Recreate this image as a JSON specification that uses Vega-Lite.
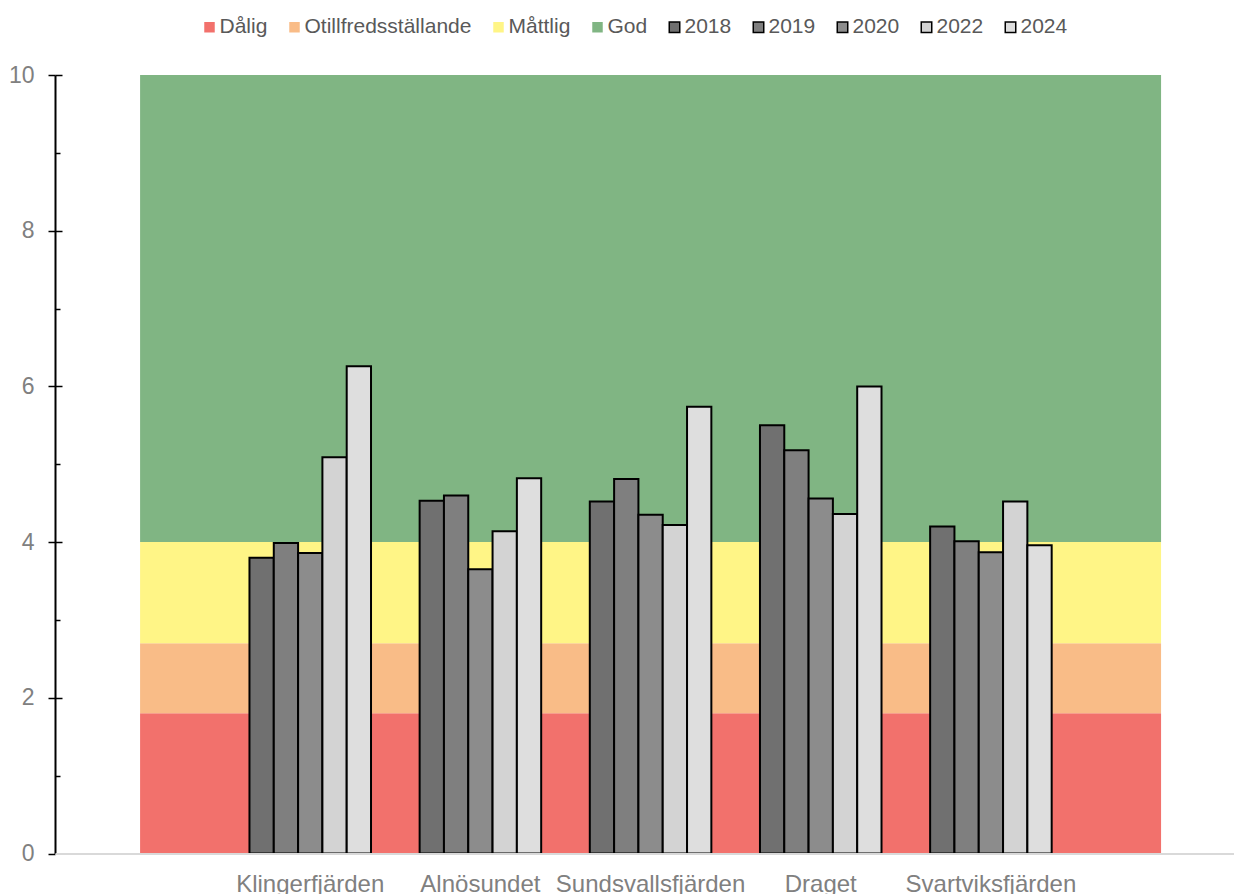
{
  "$schema": "https://vega.github.io/schema/vega-lite/v6.json",
  "width": 1179,
  "height": 778.5,
  "autosize": {"type": "none"},
  "padding": {"left": 55, "top": 75, "right": 0, "bottom": 40.5},
  "background": "white",
  "config": {
    "view": {"stroke": null},
    "font": "Liberation Sans",
    "axis": {"grid": false, "labelFont": "Liberation Sans"},
    "legend": {"labelFont": "Liberation Sans"}
  },
  "datasets": {
    "bands": [
      {"klass": "Dålig", "from": 0, "to": 1.8},
      {"klass": "Otillfredsställande", "from": 1.8, "to": 2.7},
      {"klass": "Måttlig", "from": 2.7, "to": 4},
      {"klass": "God", "from": 4, "to": 10}
    ],
    "scores": [
      {"site": "Klingerfjärden", "year": "2018", "value": 3.80},
      {"site": "Klingerfjärden", "year": "2019", "value": 3.99},
      {"site": "Klingerfjärden", "year": "2020", "value": 3.86},
      {"site": "Klingerfjärden", "year": "2022", "value": 5.09},
      {"site": "Klingerfjärden", "year": "2024", "value": 6.26},
      {"site": "Alnösundet", "year": "2018", "value": 4.53},
      {"site": "Alnösundet", "year": "2019", "value": 4.60},
      {"site": "Alnösundet", "year": "2020", "value": 3.65},
      {"site": "Alnösundet", "year": "2022", "value": 4.14},
      {"site": "Alnösundet", "year": "2024", "value": 4.82},
      {"site": "Sundsvallsfjärden", "year": "2018", "value": 4.52},
      {"site": "Sundsvallsfjärden", "year": "2019", "value": 4.81},
      {"site": "Sundsvallsfjärden", "year": "2020", "value": 4.35},
      {"site": "Sundsvallsfjärden", "year": "2022", "value": 4.22},
      {"site": "Sundsvallsfjärden", "year": "2024", "value": 5.74},
      {"site": "Draget", "year": "2018", "value": 5.50},
      {"site": "Draget", "year": "2019", "value": 5.18},
      {"site": "Draget", "year": "2020", "value": 4.56},
      {"site": "Draget", "year": "2022", "value": 4.36},
      {"site": "Draget", "year": "2024", "value": 6.00},
      {"site": "Svartviksfjärden", "year": "2018", "value": 4.20},
      {"site": "Svartviksfjärden", "year": "2019", "value": 4.01},
      {"site": "Svartviksfjärden", "year": "2020", "value": 3.87},
      {"site": "Svartviksfjärden", "year": "2022", "value": 4.52},
      {"site": "Svartviksfjärden", "year": "2024", "value": 3.96}
    ]
  },
  "layer": [
    {
      "data": {"name": "bands"},
      "mark": {"type": "rect"},
      "encoding": {
        "x": {"datum": 0.5, "type": "quantitative", "scale": {"domain": [0, 6.9286], "nice": false, "zero": false}, "axis": null},
        "x2": {"datum": 6.5},
        "y": {
          "field": "from", "type": "quantitative",
          "scale": {"domain": [0, 10], "nice": false},
          "axis": {
            "orient": "left", "title": null, "values": [0, 2, 4, 6, 8, 10],
            "tickSize": 7, "tickWidth": 1.5, "tickColor": "black",
            "domainColor": "black", "domainWidth": 2,
            "labelFontSize": 23, "labelColor": "#808080", "labelPadding": 14
          }
        },
        "y2": {"field": "to"},
        "color": {
          "field": "klass", "type": "nominal",
          "scale": {
            "domain": ["Dålig", "Otillfredsställande", "Måttlig", "God", "2018", "2019", "2020", "2022", "2024"],
            "range": ["#F2716C", "#F9BC87", "#FFF586", "#80B583", "#707070", "#7F7F7F", "#8C8C8C", "#D3D3D3", "#DEDEDE"]
          },
          "legend": {
            "title": null, "orient": "none", "legendX": 144, "legendY": -58.5,
            "direction": "horizontal", "columns": 9, "symbolType": "square", "symbolSize": 110,
            "labelFontSize": 21, "labelColor": "#595959", "labelLimit": 0,
            "columnPadding": 16, "labelOffset": -0.5, "padding": 0,
            "encode": {"symbols": {"update": {
              "stroke": {"signal": "test(/^20/, datum.value) ? 'black' : 'transparent'"},
              "strokeWidth": {"value": 1.5}
            }}}
          }
        }
      }
    },
    {
      "data": {"name": "scores"},
      "mark": {"type": "bar", "stroke": "black", "strokeWidth": 2},
      "encoding": {
        "x": {
          "field": "site", "type": "nominal", "sort": null,
          "scale": {"domain": [" ", "Klingerfjärden", "Alnösundet", "Sundsvallsfjärden", "Draget", "Svartviksfjärden"], "paddingInner": 0, "paddingOuter": 0.4643, "align": 0},
          "axis": {
            "title": null, "ticks": false, "domainColor": "#D9D9D9", "domainWidth": 2,
            "labelFontSize": 24, "labelColor": "#808080", "labelPadding": 19, "labelAngle": 0,
            "labelOverlap": false, "labelBound": false, "labelLimit": 0, "zindex": 1,
            "labelExpr": "datum.value == ' ' ? '' : datum.value"
          }
        },
        "xOffset": {"field": "year", "type": "nominal", "scale": {"paddingInner": 0, "paddingOuter": 1.075}},
        "y": {
          "field": "value", "type": "quantitative",
          "axis": {
            "orient": "left", "title": null, "values": [1, 2, 3, 4, 5, 6, 7, 8, 9, 10],
            "labels": false, "domain": false, "tickColor": "black", "tickWidth": 1.5,
            "tickSize": {"condition": {"test": "datum.value % 2 === 1", "value": -5}, "value": -7}
          }
        },
        "color": {
          "field": "year", "type": "nominal",
          "scale": {
            "domain": ["Dålig", "Otillfredsställande", "Måttlig", "God", "2018", "2019", "2020", "2022", "2024"],
            "range": ["#F2716C", "#F9BC87", "#FFF586", "#80B583", "#707070", "#7F7F7F", "#8C8C8C", "#D3D3D3", "#DEDEDE"]
          }
        }
      }
    }
  ],
  "resolve": {"scale": {"x": "independent"}, "axis": {"y": "independent"}}
}
